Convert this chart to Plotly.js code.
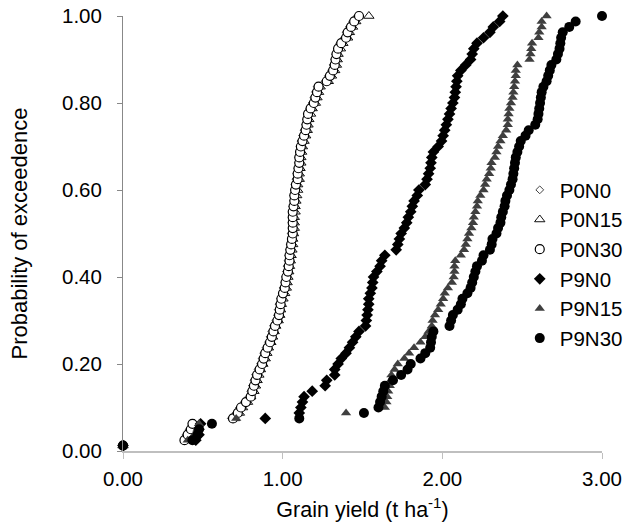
<!DOCTYPE html>
<html>
<head>
<meta charset="utf-8">
<script src="https://cdn.plot.ly/plotly-3.0.1.min.js"></script>
<style>html,body{margin:0;padding:0;background:#fff;}#chart{width:630px;height:528px;}</style>
</head>
<body>
<div id="chart"></div>
<script>
// Probability of exceedence (rank / 80), shared by every treatment
const probability = [
  0.0125, 0.025, 0.0375, 0.05, 0.0625, 0.075, 0.0875, 0.1, 0.1125, 0.125,
  0.1375, 0.15, 0.1625, 0.175, 0.1875, 0.2, 0.2125, 0.225, 0.2375, 0.25,
  0.2625, 0.275, 0.2875, 0.3, 0.3125, 0.325, 0.3375, 0.35, 0.3625, 0.375,
  0.3875, 0.4, 0.4125, 0.425, 0.4375, 0.45, 0.4625, 0.475, 0.4875, 0.5,
  0.5125, 0.525, 0.5375, 0.55, 0.5625, 0.575, 0.5875, 0.6, 0.6125, 0.625,
  0.6375, 0.65, 0.6625, 0.675, 0.6875, 0.7, 0.7125, 0.725, 0.7375, 0.75,
  0.7625, 0.775, 0.7875, 0.8, 0.8125, 0.825, 0.8375, 0.85, 0.8625, 0.875,
  0.8875, 0.9, 0.9125, 0.925, 0.9375, 0.95, 0.9625, 0.975, 0.9875, 1.0
];

// Grain yield (t ha-1), sorted, per treatment
const yieldP0N0 = [
  0, 0.385, 0.395, 0.415, 0.435, 0.678, 0.709, 0.729, 0.759, 0.79,
  0.80, 0.81, 0.82, 0.83, 0.845, 0.861, 0.871, 0.881, 0.896, 0.911,
  0.921, 0.932, 0.942, 0.957, 0.967, 0.972, 0.977, 0.987, 0.997, 1.002,
  1.013, 1.018, 1.023, 1.028, 1.033, 1.038, 1.043, 1.048, 1.053, 1.053,
  1.058, 1.058, 1.058, 1.063, 1.063, 1.068, 1.068, 1.073, 1.078, 1.083,
  1.088, 1.094, 1.099, 1.099, 1.104, 1.109, 1.114, 1.124, 1.134, 1.144,
  1.149, 1.154, 1.169, 1.185, 1.195, 1.205, 1.215, 1.266, 1.286, 1.306,
  1.316, 1.326, 1.331, 1.342, 1.357, 1.387, 1.397, 1.418, 1.438, 1.468
];
const yieldP0N15 = [
  0, 0.395, 0.415, 0.425, 0.446, 0.699, 0.729, 0.749, 0.78, 0.80,
  0.82, 0.83, 0.84, 0.851, 0.861, 0.876, 0.891, 0.901, 0.911, 0.926,
  0.937, 0.947, 0.957, 0.972, 0.982, 0.987, 0.992, 1.002, 1.013, 1.023,
  1.028, 1.033, 1.038, 1.043, 1.048, 1.053, 1.058, 1.063, 1.063, 1.068,
  1.073, 1.073, 1.073, 1.078, 1.078, 1.083, 1.088, 1.094, 1.094, 1.104,
  1.104, 1.109, 1.114, 1.114, 1.119, 1.124, 1.134, 1.144, 1.154, 1.159,
  1.164, 1.175, 1.185, 1.205, 1.215, 1.225, 1.235, 1.286, 1.306, 1.326,
  1.337, 1.342, 1.347, 1.362, 1.377, 1.407, 1.418, 1.438, 1.458, 1.54
];
const yieldP0N30 = [
  0, 0.385, 0.405, 0.425, 0.435, 0.689, 0.719, 0.739, 0.77, 0.80,
  0.81, 0.82, 0.83, 0.84, 0.856, 0.871, 0.881, 0.891, 0.906, 0.921,
  0.932, 0.942, 0.952, 0.967, 0.977, 0.982, 0.987, 0.992, 1.002, 1.013,
  1.018, 1.023, 1.033, 1.038, 1.043, 1.043, 1.048, 1.053, 1.058, 1.063,
  1.063, 1.063, 1.063, 1.063, 1.068, 1.073, 1.073, 1.078, 1.083, 1.094,
  1.094, 1.099, 1.104, 1.104, 1.109, 1.114, 1.124, 1.134, 1.144, 1.149,
  1.154, 1.159, 1.175, 1.195, 1.205, 1.215, 1.225, 1.276, 1.296, 1.316,
  1.326, 1.331, 1.337, 1.347, 1.367, 1.397, 1.407, 1.428, 1.448, 1.478
];
const yieldP9N0 = [
  0, 0.456, 0.476, 0.476, 0.486, 0.891, 1.104, 1.114, 1.124, 1.134,
  1.185, 1.266, 1.276, 1.326, 1.326, 1.347, 1.367, 1.397, 1.418, 1.438,
  1.458, 1.478, 1.519, 1.524, 1.529, 1.534, 1.539, 1.539, 1.549, 1.559,
  1.564, 1.569, 1.59, 1.61, 1.62, 1.64, 1.711, 1.721, 1.731, 1.742,
  1.762, 1.777, 1.787, 1.802, 1.812, 1.823, 1.843, 1.853, 1.893, 1.904,
  1.914, 1.924, 1.929, 1.934, 1.944, 1.974, 1.995, 2.005, 2.015, 2.025,
  2.035, 2.045, 2.055, 2.066, 2.076, 2.081, 2.086, 2.091, 2.096, 2.116,
  2.147, 2.177, 2.187, 2.197, 2.217, 2.258, 2.298, 2.319, 2.359, 2.379
];
const yieldP9N15 = [
  0, 0.405, 0.446, 0.466, 0.476, 0.709, 1.397, 1.64, 1.65, 1.655,
  1.661, 1.671, 1.676, 1.681, 1.701, 1.721, 1.762, 1.792, 1.823, 1.863,
  1.893, 1.914, 1.934, 1.939, 1.954, 1.974, 1.99, 2.005, 2.015, 2.035,
  2.06, 2.071, 2.076, 2.076, 2.081, 2.116, 2.136, 2.147, 2.157, 2.167,
  2.182, 2.192, 2.197, 2.207, 2.217, 2.222, 2.238, 2.258, 2.268, 2.278,
  2.293, 2.303, 2.308, 2.329, 2.339, 2.349, 2.364, 2.379, 2.40, 2.41,
  2.41, 2.415, 2.42, 2.43, 2.44, 2.445, 2.45, 2.455, 2.46, 2.46,
  2.47, 2.546, 2.552, 2.557, 2.562, 2.602, 2.607, 2.622, 2.622, 2.653
];
const yieldP9N30 = [
  0, 0.435, 0.466, 0.476, 0.557, 1.104, 1.509, 1.60, 1.61, 1.62,
  1.63, 1.64, 1.691, 1.742, 1.782, 1.802, 1.863, 1.893, 1.924, 1.929,
  1.934, 1.944, 2.045, 2.055, 2.066, 2.096, 2.116, 2.126, 2.157, 2.177,
  2.187, 2.197, 2.207, 2.217, 2.248, 2.258, 2.298, 2.309, 2.314, 2.339,
  2.349, 2.364, 2.369, 2.379, 2.39, 2.395, 2.405, 2.42, 2.43, 2.44,
  2.445, 2.45, 2.455, 2.46, 2.47, 2.481, 2.491, 2.521, 2.541, 2.582,
  2.597, 2.602, 2.607, 2.612, 2.617, 2.622, 2.633, 2.653, 2.663, 2.673,
  2.683, 2.714, 2.724, 2.734, 2.739, 2.744, 2.754, 2.795, 2.835, 3.0
];

const seriesNames = ["P0N0", "P0N15", "P0N30", "P9N0", "P9N15", "P9N30"];
const seriesYields = [yieldP0N0, yieldP0N15, yieldP0N30, yieldP9N0, yieldP9N15, yieldP9N30];
const xTickVals = [0, 1, 2, 3];
const xTickText = ["0.00", "1.00", "2.00", "3.00"];
const yTickVals = [0, 0.2, 0.4, 0.6, 0.8, 1.0];
const yTickText = ["0.00", "0.20", "0.40", "0.60", "0.80", "1.00"];

const markerStyles = [
  {symbol: "diamond", size: 6, color: "#ffffff", line: {color: "#444444", width: 1}},
  {symbol: "triangle-up", size: 9, color: "#ffffff", line: {color: "#111111", width: 1}},
  {symbol: "circle", size: 9, color: "#ffffff", line: {color: "#000000", width: 1.2}},
  {symbol: "diamond", size: 9, color: "#000000", line: {width: 0}},
  {symbol: "triangle-up", size: 9, color: "#3f3f3f", line: {width: 0}},
  {symbol: "circle", size: 10, color: "#000000", line: {width: 0}}
];

const traces = seriesNames.map((name, i) => ({
  type: "scatter",
  mode: "markers",
  name: name,
  x: seriesYields[i],
  y: probability,
  marker: markerStyles[i],
  cliponaxis: false
}));

const font = "Liberation Sans, Arial, sans-serif";
const layout = {
  width: 630,
  height: 528,
  margin: {l: 123, r: 28, t: 16, b: 77, autoexpand: false},
  paper_bgcolor: "#ffffff",
  plot_bgcolor: "#ffffff",
  showlegend: true,
  font: {family: font, size: 20.5, color: "#000000"},
  legend: {
    x: 0.825, y: 0.678, xanchor: "left", yanchor: "top",
    xref: "container", yref: "container",
    bgcolor: "rgba(255,255,255,0)",
    font: {family: font, size: 20.5, color: "#000000"},
    itemwidth: 30
  },
  xaxis: {
    range: [0, 3],
    tickmode: "array", tickvals: xTickVals, ticktext: xTickText,
    showgrid: false, zeroline: false,
    showline: true, linecolor: "#bfbfbf", linewidth: 2,
    ticks: "outside", ticklen: 6, tickcolor: "#bfbfbf", tickwidth: 1,
    ticklabelstandoff: 2,
    tickfont: {family: font, size: 20.5, color: "#000000"},
    title: {text: "Grain yield (t ha<sup>-1</sup>)", font: {family: font, size: 21.5, color: "#000000"}, standoff: 13}
  },
  yaxis: {
    range: [0, 1],
    tickmode: "array", tickvals: yTickVals, ticktext: yTickText,
    showgrid: false, zeroline: false,
    showline: true, linecolor: "#888888", linewidth: 1,
    ticks: "outside", ticklen: 5, tickcolor: "#888888",
    ticklabelstandoff: 11,
    tickfont: {family: font, size: 20.5, color: "#000000"},
    title: {text: "Probability of exceedence", font: {family: font, size: 22, color: "#000000"}, standoff: 28}
  }
};

Plotly.newPlot("chart", traces, layout, {displayModeBar: false, staticPlot: true});
</script>
</body>
</html>
